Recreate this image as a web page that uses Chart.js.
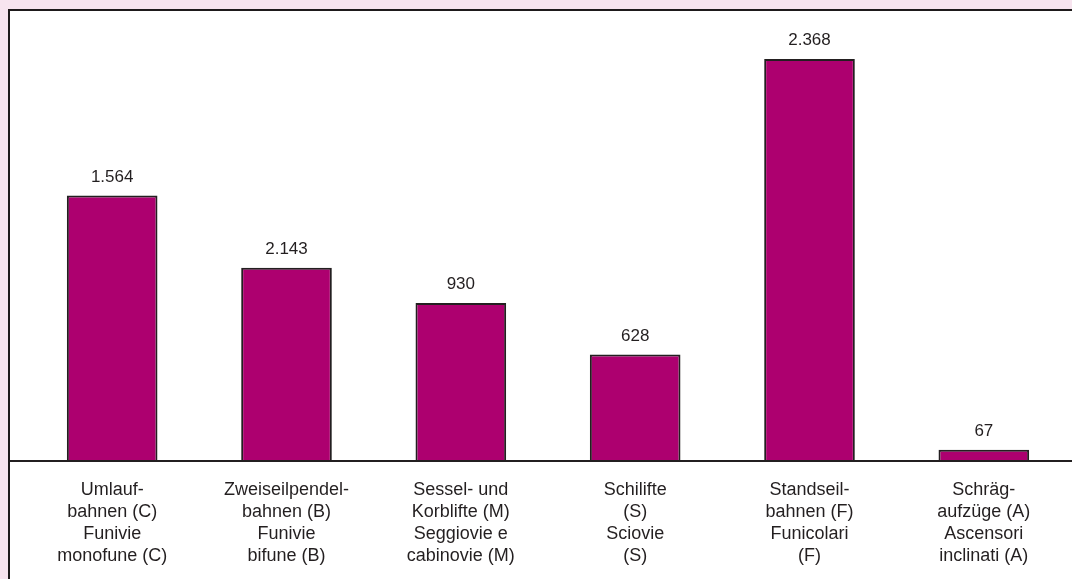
<!DOCTYPE html>
<html>
<head>
<meta charset="utf-8">
<script src="https://cdn.jsdelivr.net/npm/chart.js@4.4.1/dist/chart.umd.min.js"></script>
<style>
  html, body { margin: 0; padding: 0; background: #f7e4ef; width: 1072px; height: 579px; overflow: hidden; }
  #frame {
    position: absolute; left: 8px; top: 9px;
    width: 1064px; height: 570px;
    background: #fff; overflow: hidden;
    border-left: 2px solid #1e1a1b; border-top: 2px solid #1e1a1b;
  }
  #wrap { position: absolute; left: 0; top: 0; width: 1062px; height: 583px; }
</style>
</head>
<body>
<div id="frame"><div id="wrap"><canvas id="chart"></canvas></div></div>
<script>
// categories: German / Italian names
const categories = [
  ['Umlauf-', 'bahnen (C)', 'Funivie', 'monofune (C)'],
  ['Zweiseilpendel-', 'bahnen (B)', 'Funivie', 'bifune (B)'],
  ['Sessel- und', 'Korblifte (M)', 'Seggiovie e', 'cabinovie (M)'],
  ['Schilifte', '(S)', 'Sciovie', '(S)'],
  ['Standseil-', 'bahnen (F)', 'Funicolari', '(F)'],
  ['Schräg-', 'aufzüge (A)', 'Ascensori', 'inclinati (A)']
];
// bar heights as drawn in the picture
const barValues = [1564, 1138, 930, 628, 2368, 67];
// printed labels above the bars
const valueLabels = ['1.564', '2.143', '930', '628', '2.368', '67'];

const textColor = '#231f20';

const labelsPlugin = {
  id: 'barLabels',
  afterDatasetsDraw(chart) {
    const ctx = chart.ctx;
    const meta = chart.getDatasetMeta(0);
    ctx.save();
    ctx.font = '17px "Liberation Sans", Arial, sans-serif';
    ctx.fillStyle = textColor;
    ctx.textAlign = 'center';
    ctx.textBaseline = 'middle';
    meta.data.forEach((bar, i) => {
      ctx.fillText(valueLabels[i], bar.x, bar.y - 18.5);
    });
    // axis line across whole frame
    const y0 = chart.scales.y.getPixelForValue(0);
    ctx.strokeStyle = textColor;
    ctx.lineWidth = 2;
    ctx.beginPath();
    ctx.moveTo(0, y0);
    ctx.lineTo(chart.width, y0);
    ctx.stroke();
    ctx.restore();
  }
};

new Chart(document.getElementById('chart'), {
  type: 'bar',
  data: {
    labels: categories,
    datasets: [{
      data: barValues,
      backgroundColor: '#ad006f',
      borderColor: '#231f20',
      borderWidth: 2,
      borderSkipped: 'bottom',
      categoryPercentage: 1,
      barPercentage: 0.52
    }]
  },
  options: {
    responsive: true,
    maintainAspectRatio: false,
    animation: false,
    layout: { padding: { left: 15, right: 1, top: 20, bottom: 9 } },
    plugins: { legend: { display: false }, tooltip: { enabled: false } },
    scales: {
      x: {
        grid: { display: false, drawTicks: false },
        border: { display: false },
        ticks: {
          color: textColor,
          padding: 18,
          maxRotation: 0,
          autoSkip: false,
          font: { family: '"Liberation Sans", Arial, sans-serif', size: 18, lineHeight: '22px' }
        }
      },
      y: {
        display: false,
        min: 0,
        max: 2533
      }
    }
  },
  plugins: [labelsPlugin]
});
</script>
</body>
</html>
